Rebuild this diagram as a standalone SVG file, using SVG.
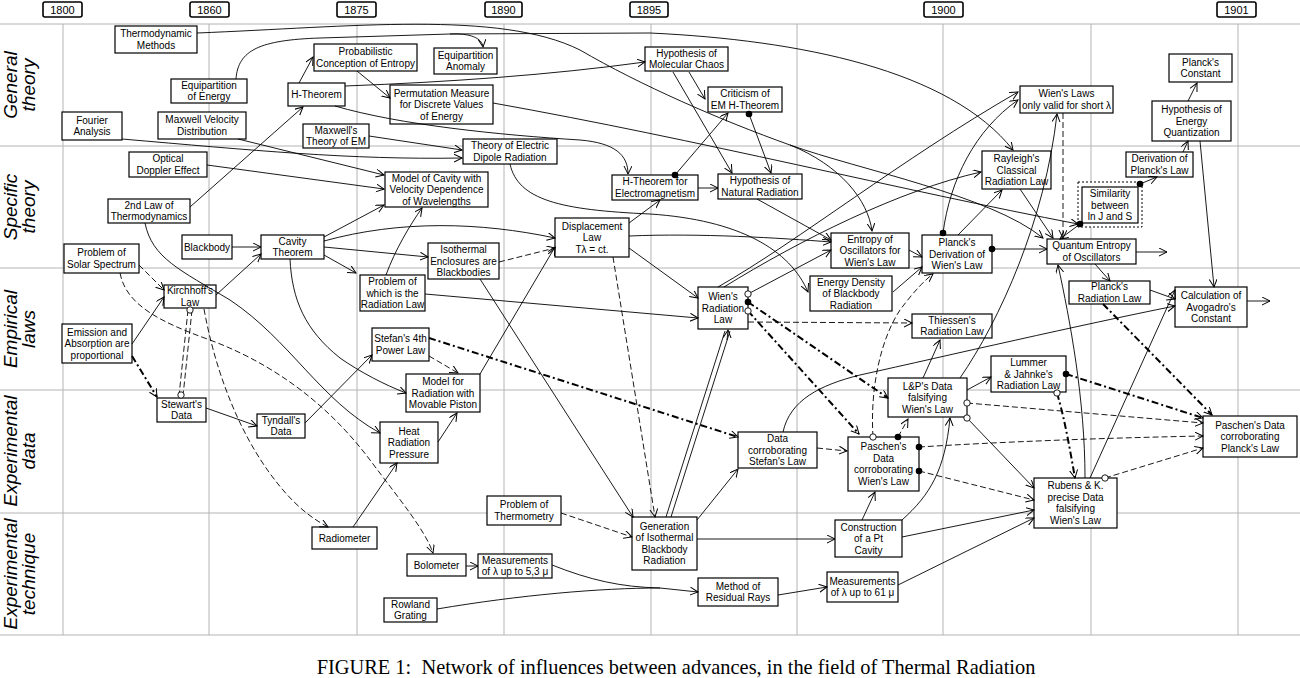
<svg xmlns="http://www.w3.org/2000/svg" width="1300" height="678" viewBox="0 0 1300 678">
<style>
.g{stroke:#b4b4b4;stroke-width:1;fill:none}
.yr rect{fill:#fff;stroke:#000;stroke-width:1.6}
.yr text{font-family:"Liberation Sans",Arial,sans-serif;font-size:11px;text-anchor:middle}
.row{font-family:"Liberation Sans",Arial,sans-serif;font-size:19px;font-style:italic;text-anchor:middle}
.n rect{fill:#fff;stroke:#000;stroke-width:1.2}
.n text{font-family:"Liberation Sans",Arial,sans-serif;font-size:10px;text-anchor:middle}
.c path{fill:none;stroke:#000;stroke-width:0.9}
.c .ds{stroke-dasharray:6 3}
.c .dd{stroke-width:2;stroke-dasharray:7 3 2 3}
.c .ar{marker-end:url(#a)}
.c .sd{marker-start:url(#d)}
.c .so{marker-start:url(#o)}
</style>
<defs>
<marker id="a" markerWidth="10" markerHeight="10" refX="8" refY="4" orient="auto" markerUnits="userSpaceOnUse"><path d="M0,0 L8,4 L0,8" fill="none" stroke="#000" stroke-width="1"/></marker>
<marker id="d" markerWidth="8" markerHeight="8" refX="4" refY="4" markerUnits="userSpaceOnUse"><circle cx="4" cy="4" r="3.3" fill="#000"/></marker>
<marker id="o" markerWidth="8" markerHeight="8" refX="4" refY="4" markerUnits="userSpaceOnUse"><circle cx="4" cy="4" r="3.2" fill="#fff" stroke="#000" stroke-width="0.9"/></marker>
</defs>
<rect width="1300" height="678" fill="#fff"/>
<g id="grid">
<path class="g" d="M0,24H1300M0,146H1300M0,268H1300M0,390H1300M0,513H1300M0,635H1300"/>
<path class="g" d="M63,24V635M209,24V635M357,24V635M504,24V635M651,24V635M797,24V635M943,24V635M1091,24V635M1238,24V635"/>
</g>
<g id="years" class="yr">
<rect x="43" y="2" width="39" height="15" rx="2"/><text x="62.5" y="14">1800</text>
<rect x="190" y="2" width="39" height="15" rx="2"/><text x="209.5" y="14">1860</text>
<rect x="337" y="2" width="39" height="15" rx="2"/><text x="356.5" y="14">1875</text>
<rect x="485" y="2" width="37" height="15" rx="2"/><text x="503.5" y="14">1890</text>
<rect x="630" y="2" width="38" height="15" rx="2"/><text x="649" y="14">1895</text>
<rect x="924" y="2" width="39" height="15" rx="2"/><text x="943.5" y="14">1900</text>
<rect x="1217" y="2" width="39" height="15" rx="2"/><text x="1236.5" y="14">1901</text>
</g>
<g id="rows">
<text class="row" transform="translate(17,85) rotate(-90)">General</text>
<text class="row" transform="translate(35,85) rotate(-90)">theory</text>
<text class="row" transform="translate(17,207) rotate(-90)">Specific</text>
<text class="row" transform="translate(35,207) rotate(-90)">theory</text>
<text class="row" transform="translate(17,329) rotate(-90)">Empirical</text>
<text class="row" transform="translate(35,329) rotate(-90)">laws</text>
<text class="row" transform="translate(17,451) rotate(-90)">Experimental</text>
<text class="row" transform="translate(35,451) rotate(-90)">data</text>
<text class="row" transform="translate(17,574) rotate(-90)">Experimental</text>
<text class="row" transform="translate(35,574) rotate(-90)">technique</text>
</g>
<g id="nodes">
<g id="thermo" class="n"><rect x="115" y="26" width="82" height="27"/><text x="156" y="37.2">Thermodynamic</text><text x="156" y="48.7">Methods</text></g>
<g id="equip" class="n"><rect x="171" y="79" width="76" height="24"/><text x="209" y="88.7">Equipartition</text><text x="209" y="100.2">of Energy</text></g>
<g id="hthm" class="n"><rect x="288" y="83" width="57" height="23"/><text x="316.5" y="98">H-Theorem</text></g>
<g id="fourier" class="n"><rect x="62" y="112" width="60" height="28"/><text x="92" y="123.7">Fourier</text><text x="92" y="135.2">Analysis</text></g>
<g id="mvd" class="n"><rect x="158" y="112" width="88" height="27"/><text x="202" y="123.2">Maxwell Velocity</text><text x="202" y="134.7">Distribution</text></g>
<g id="maxem" class="n"><rect x="303" y="124" width="66" height="24"/><text x="336" y="133.7">Maxwell's</text><text x="336" y="145.2">Theory of EM</text></g>
<g id="doppler" class="n"><rect x="129" y="152" width="78" height="25"/><text x="168" y="162.2">Optical</text><text x="168" y="173.7">Doppler Effect</text></g>
<g id="law2" class="n"><rect x="108" y="199" width="82" height="24"/><text x="149" y="208.7">2nd Law of</text><text x="149" y="220.2">Thermodynamics</text></g>
<g id="prob" class="n"><rect x="314" y="44" width="103" height="27"/><text x="365.5" y="55.2">Probabilistic</text><text x="365.5" y="66.7">Conception of Entropy</text></g>
<g id="eqanom" class="n"><rect x="434" y="48" width="63" height="26"/><text x="465.5" y="58.7">Equipartition</text><text x="465.5" y="70.2">Anomaly</text></g>
<g id="perm" class="n"><rect x="390" y="85" width="103" height="39"/><text x="441.5" y="96.5">Permutation Measure</text><text x="441.5" y="108">for Discrete Values</text><text x="441.5" y="119.5">of Energy</text></g>
<g id="dipole" class="n"><rect x="463" y="139" width="94" height="25"/><text x="510" y="149.2">Theory of Electric</text><text x="510" y="160.7">Dipole Radiation</text></g>
<g id="cavmodel" class="n"><rect x="385" y="172" width="103" height="35"/><text x="436.5" y="181.5">Model of Cavity with</text><text x="436.5" y="193">Velocity Dependence</text><text x="436.5" y="204.5">of Wavelengths</text></g>
<g id="displ" class="n"><rect x="555" y="218" width="74" height="39"/><text x="592" y="229.5">Displacement</text><text x="592" y="241">Law</text><text x="592" y="252.5">Tλ = ct.</text></g>
<g id="chaos" class="n"><rect x="645" y="47" width="83" height="24"/><text x="686.5" y="56.7">Hypothesis of</text><text x="686.5" y="68.2">Molecular Chaos</text></g>
<g id="critic" class="n"><rect x="708" y="87" width="74" height="25"/><text x="745" y="97.2">Criticism of</text><text x="745" y="108.7">EM H-Theorem</text></g>
<g id="hthmem" class="n"><rect x="612" y="175" width="86" height="25"/><text x="655" y="185.2">H-Theorem for</text><text x="655" y="196.7">Electromagnetism</text></g>
<g id="natrad" class="n"><rect x="718" y="174" width="84" height="25"/><text x="760" y="184.2">Hypothesis of</text><text x="760" y="195.7">Natural Radiation</text></g>
<g id="wienshort" class="n"><rect x="1020" y="86" width="93" height="27"/><text x="1066.5" y="97.2">Wien's Laws</text><text x="1066.5" y="108.7">only valid for short λ</text></g>
<g id="pconst" class="n"><rect x="1169" y="54" width="63" height="28"/><text x="1200.5" y="65.7">Planck's</text><text x="1200.5" y="77.2">Constant</text></g>
<g id="quant" class="n"><rect x="1152" y="101" width="79" height="40"/><text x="1191.5" y="113">Hypothesis of</text><text x="1191.5" y="124.5">Energy</text><text x="1191.5" y="136">Quantization</text></g>
<g id="rayleigh" class="n"><rect x="982" y="151" width="69" height="38"/><text x="1016.5" y="162">Rayleigh's</text><text x="1016.5" y="173.5">Classical</text><text x="1016.5" y="185">Radiation Law</text></g>
<g id="derivp" class="n"><rect x="1126" y="152" width="67" height="25"/><text x="1159.5" y="162.2">Derivation of</text><text x="1159.5" y="173.7">Planck's Law</text></g>
<g id="simil" class="n"><rect x="1078" y="182" width="64" height="45" style="stroke-dasharray:2 2;stroke-width:1"/><rect x="1082" y="187" width="56" height="36"/><text x="1110" y="197">Similarity</text><text x="1110" y="208.5">between</text><text x="1110" y="220">ln J and S</text></g>
<g id="solar" class="n"><rect x="64" y="244" width="75" height="29"/><text x="101.5" y="256.2">Problem of</text><text x="101.5" y="267.7">Solar Spectrum</text></g>
<g id="blackbody" class="n"><rect x="182" y="235" width="50" height="24"/><text x="207" y="250.5">Blackbody</text></g>
<g id="cavity" class="n"><rect x="261" y="235" width="63" height="24"/><text x="292.5" y="244.7">Cavity</text><text x="292.5" y="256.2">Theorem</text></g>
<g id="kirch" class="n"><rect x="164" y="285" width="52" height="23"/><text x="190" y="294.2">Kirchhoff's</text><text x="190" y="305.7">Law</text></g>
<g id="emis" class="n"><rect x="62" y="324" width="70" height="39"/><text x="97" y="335.5">Emission and</text><text x="97" y="347">Absorption are</text><text x="97" y="358.5">proportional</text></g>
<g id="stewart" class="n"><rect x="157" y="398" width="49" height="24"/><text x="181.5" y="407.7">Stewart's</text><text x="181.5" y="419.2">Data</text></g>
<g id="tyndall" class="n"><rect x="257" y="414" width="48" height="24"/><text x="281" y="423.7">Tyndall's</text><text x="281" y="435.2">Data</text></g>
<g id="isoth" class="n"><rect x="428" y="243" width="71" height="36"/><text x="463.5" y="253">Isothermal</text><text x="463.5" y="264.5">Enclosures are</text><text x="463.5" y="276">Blackbodies</text></g>
<g id="probrad" class="n"><rect x="360" y="275" width="65" height="36"/><text x="392.5" y="285">Problem of</text><text x="392.5" y="296.5">which is the</text><text x="392.5" y="308">Radiation Law</text></g>
<g id="stefan" class="n"><rect x="372" y="328" width="57" height="33"/><text x="400.5" y="342.2">Stefan's 4th</text><text x="400.5" y="353.7">Power Law</text></g>
<g id="piston" class="n"><rect x="406" y="374" width="74" height="38"/><text x="443" y="385">Model for</text><text x="443" y="396.5">Radiation with</text><text x="443" y="408">Movable Piston</text></g>
<g id="heatp" class="n"><rect x="380" y="422" width="58" height="41"/><text x="409" y="434.5">Heat</text><text x="409" y="446">Radiation</text><text x="409" y="457.5">Pressure</text></g>
<g id="entosc" class="n"><rect x="831" y="233" width="78" height="35"/><text x="870" y="242.5">Entropy of</text><text x="870" y="254">Oscillators for</text><text x="870" y="265.5">Wien's Law</text></g>
<g id="pderiv" class="n"><rect x="922" y="235" width="70" height="38"/><text x="957" y="246">Planck's</text><text x="957" y="257.5">Derivation of</text><text x="957" y="269">Wien's Law</text></g>
<g id="wienrad" class="n"><rect x="698" y="287" width="50" height="42"/><text x="723" y="300">Wien's</text><text x="723" y="311.5">Radiation</text><text x="723" y="323">Law</text></g>
<g id="edens" class="n"><rect x="810" y="276" width="82" height="35"/><text x="851" y="285.5">Energy Density</text><text x="851" y="297">of Blackbody</text><text x="851" y="308.5">Radiation</text></g>
<g id="thiessen" class="n"><rect x="912" y="314" width="80" height="24"/><text x="952" y="323.7">Thiessen's</text><text x="952" y="335.2">Radiation Law</text></g>
<g id="lp" class="n"><rect x="888" y="378" width="79" height="39"/><text x="927.5" y="389.5">L&amp;P's Data</text><text x="927.5" y="401">falsifying</text><text x="927.5" y="412.5">Wien's Law</text></g>
<g id="dstefan" class="n"><rect x="738" y="432" width="79" height="36"/><text x="777.5" y="442">Data</text><text x="777.5" y="453.5">corroborating</text><text x="777.5" y="465">Stefan's Law</text></g>
<g id="pwien" class="n"><rect x="848" y="437" width="71" height="54"/><text x="883.5" y="450.2">Paschen's</text><text x="883.5" y="461.7">Data</text><text x="883.5" y="473.2">corroborating</text><text x="883.5" y="484.7">Wien's Law</text></g>
<g id="qent" class="n"><rect x="1047" y="239" width="89" height="25"/><text x="1091.5" y="249.2">Quantum Entropy</text><text x="1091.5" y="260.7">of Oscillators</text></g>
<g id="planckrad" class="n"><rect x="1069" y="281" width="81" height="23"/><text x="1109.5" y="290.2">Planck's</text><text x="1109.5" y="301.7">Radiation Law</text></g>
<g id="avog" class="n"><rect x="1175" y="287" width="72" height="40"/><text x="1211" y="299">Calculation of</text><text x="1211" y="310.5">Avogadro's</text><text x="1211" y="322">Constant</text></g>
<g id="lj" class="n"><rect x="991" y="356" width="75" height="36"/><text x="1028.5" y="366">Lummer</text><text x="1028.5" y="377.5">&amp; Jahnke's</text><text x="1028.5" y="389">Radiation Law</text></g>
<g id="pplanck" class="n"><rect x="1203" y="416" width="94" height="41"/><text x="1250" y="428.5">Paschen's Data</text><text x="1250" y="440">corroborating</text><text x="1250" y="451.5">Planck's Law</text></g>
<g id="radiom" class="n"><rect x="312" y="527" width="65" height="22"/><text x="344.5" y="541.5">Radiometer</text></g>
<g id="thermom" class="n"><rect x="487" y="496" width="74" height="29"/><text x="524" y="508.2">Problem of</text><text x="524" y="519.7">Thermometry</text></g>
<g id="bolom" class="n"><rect x="407" y="554" width="59" height="22"/><text x="436.5" y="568.5">Bolometer</text></g>
<g id="meas53" class="n"><rect x="478" y="554" width="74" height="24"/><text x="515" y="563.7">Measurements</text><text x="515" y="575.2">of λ up to 5,3 μ</text></g>
<g id="rowland" class="n"><rect x="384" y="598" width="53" height="24"/><text x="410.5" y="607.7">Rowland</text><text x="410.5" y="619.2">Grating</text></g>
<g id="gener" class="n"><rect x="632" y="517" width="65" height="53"/><text x="664.5" y="529.7">Generation</text><text x="664.5" y="541.2">of Isothermal</text><text x="664.5" y="552.7">Blackbody</text><text x="664.5" y="564.2">Radiation</text></g>
<g id="residual" class="n"><rect x="698" y="578" width="80" height="28"/><text x="738" y="589.7">Method of</text><text x="738" y="601.2">Residual Rays</text></g>
<g id="ptcav" class="n"><rect x="835" y="520" width="67" height="37"/><text x="868.5" y="530.5">Construction</text><text x="868.5" y="542">of a Pt</text><text x="868.5" y="553.5">Cavity</text></g>
<g id="meas61" class="n"><rect x="827" y="572" width="71" height="30"/><text x="862.5" y="584.7">Measurements</text><text x="862.5" y="596.2">of λ up to 61 μ</text></g>
<g id="rubens" class="n"><rect x="1034" y="478" width="83" height="50"/><text x="1075.5" y="489.2">Rubens &amp; K.</text><text x="1075.5" y="500.7">precise Data</text><text x="1075.5" y="512.2">falsifying</text><text x="1075.5" y="523.7">Wien's Law</text></g>
</g>
<g id="connectors" class="c">
<path class="ar" d="M197,33 C350,27 500,10 580,50 C640,85 720,120 790,145 C840,165 868,200 872,231"/>
<path class="ar" d="M790,145 C860,170 990,195 1043,238"/>
<path class="ar" d="M236,79 C238,50 260,40 320,38 L450,34 C470,33 482,38 483,47"/>
<path class="ar" d="M450,34 L650,33 C800,40 950,70 1013,150"/>
<path class="ar" d="M299,83 L313,57"/>
<path class="ar" d="M190,207 L303,107"/>
<path class="ar" d="M345,86 C450,82 550,75 645,62"/>
<path class="ar" d="M357,71 L390,98"/>
<path class="ar" d="M335,106 C400,125 500,135 580,140 C615,143 628,155 628,174"/>
<path class="ar" d="M493,103 C700,140 900,190 1078,224"/>
<path class="ar" d="M145,223 C152,258 180,270 230,300 C290,340 320,400 380,433"/>
<path class="ar" d="M290,259 C292,300 305,330 340,358 C360,372 385,385 406,393"/>
<path class="ar" d="M122,139 C250,150 350,160 462,158"/>
<path class="ar" d="M369,136 L462,150"/>
<path class="ar" d="M238,139 L384,175"/>
<path class="ar" d="M207,165 L384,189"/>
<path class="ar" d="M324,237 L384,205"/>
<path class="ar" d="M324,241 C400,220 480,222 555,238"/>
<path class="ar" d="M324,247 L428,257"/>
<path class="ar" d="M324,255 L356,273"/>
<path class="ar" d="M386,275 C395,250 410,225 422,208"/>
<path class="ar ds" d="M499,262 L555,248"/>
<path class="ar" d="M480,279 L633,517"/>
<path class="ar" d="M425,294 L698,318"/>
<path class="ar ds" d="M429,356 L458,373"/>
<path class="ar dd" d="M429,338 L738,437"/>
<path class="ar" d="M305,423 L372,355"/>
<path class="ar" d="M206,408 L257,426"/>
<path class="ar" d="M353,527 L397,463"/>
<path class="ar" d="M438,442 L457,413"/>
<path class="ar" d="M480,374 L555,247"/>
<path class="ar ds" d="M139,265 L164,290"/>
<path class="ar ds" d="M120,273 C126,305 160,322 210,340 C290,370 340,420 370,460 C400,500 425,530 433,553"/>
<path class="ar" d="M132,344 L164,297"/>
<path class="ar dd" d="M132,356 L157,397"/>
<path class="ds" d="M188,310 L179,396 M192,310 L183,396"/>
<path class="so" d="M190,310 L190,310"/>
<path class="so" d="M181,395 L181,395"/>
<path class="ar" d="M216,295 L261,254"/>
<path class="ar ds" d="M204,309 C215,370 240,440 283,490 C300,510 315,520 328,527"/>
<path class="ar" d="M232,247 L261,247"/>
<path class="ar ds" d="M561,513 L632,537"/>
<path class="ar" d="M466,566 L478,566"/>
<path class="ar" d="M552,565 C590,580 620,587 660,588 L698,592"/>
<path d="M437,609 C520,595 600,588 660,588"/>
<path class="ar" d="M778,595 L827,587"/>
<path class="ar" d="M898,585 L1034,518"/>
<path class="ar" d="M697,539 L835,539"/>
<path class="ar" d="M697,520 L738,469"/>
<path d="M666,517 L725,331 M671,517 L730,331"/>
<path class="ar" d="M727,340 L728,330"/>
<path class="ar ds" d="M613,257 L655,517"/>
<path class="ar" d="M862,520 L875,492"/>
<path class="ar" d="M902,520 C930,495 945,470 950,418"/>
<path class="ar" d="M902,537 L1034,510"/>
<path class="ar ds" d="M817,448 L847,451"/>
<path class="ar" d="M783,432 C790,400 820,385 860,375 C950,355 1080,325 1175,306"/>
<path class="ar ds so" d="M873,437 C870,390 880,340 900,310 C915,290 925,280 933,274"/>
<path class="ar ds sd" d="M898,437 L908,419"/>
<path class="ar ds sd" d="M919,447 C1000,442 1100,438 1203,436"/>
<path class="ar ds sd" d="M919,471 L1034,500"/>
<path class="ar ds so" d="M967,403 L1203,423"/>
<path class="ar so" d="M967,418 L1034,488"/>
<path class="ar" d="M923,378 L940,340"/>
<path class="ar" d="M967,390 L991,377"/>
<path class="ar dd sd" d="M1066,374 L1203,418"/>
<path class="ar dd so" d="M1057,393 C1065,420 1070,450 1075,478"/>
<path class="ar dd" d="M1103,304 L1212,415"/>
<path class="ar" d="M1150,290 L1175,299"/>
<path class="ar" d="M1095,264 L1110,281"/>
<path class="ar" d="M1136,252 L1167,252"/>
<path class="ar" d="M1247,301 L1270,301"/>
<path class="ar" d="M1200,141 L1214,287"/>
<path class="ar" d="M1188,101 L1197,83"/>
<path class="ar" d="M1183,152 L1188,141"/>
<path class="ar sd" d="M1140,184 L1157,177"/>
<path class="ar sd" d="M1080,224 L1060,239"/>
<path class="ar" d="M1085,478 C1085,400 1070,320 1058,265"/>
<path class="ar" d="M1090,478 L1175,290"/>
<path class="ar ds so" d="M1105,478 L1203,448"/>
<path class="ar sd" d="M992,249 L1047,249"/>
<path class="ar sd" d="M943,233 C950,180 975,130 1018,100"/>
<path class="ar" d="M958,235 L1002,190"/>
<path class="ar" d="M718,287 C800,240 900,160 1018,92"/>
<path class="ar" d="M724,287 C800,240 900,190 981,172"/>
<path class="ar so" d="M748,294 L831,250"/>
<path class="ar dd sd" d="M748,302 L888,398"/>
<path class="ar dd so" d="M748,311 L859,434"/>
<path class="ar ds" d="M748,322 L912,323"/>
<path class="ar" d="M629,248 L698,298"/>
<path class="ar" d="M629,236 C700,233 780,238 831,242"/>
<path class="ar" d="M510,164 C518,200 560,210 650,214 C740,220 790,250 808,292"/>
<path class="ar" d="M757,199 L831,240"/>
<path class="ar sd" d="M749,114 L771,173"/>
<path class="ar sd" d="M675,175 L728,113"/>
<path class="ar" d="M698,188 L718,188"/>
<path class="ar" d="M689,72 L705,99"/>
<path class="ar" d="M673,72 L732,173"/>
<path class="ar" d="M629,223 L660,200"/>
<path class="ar ds" d="M1063,113 L1063,238"/>
<path class="ar" d="M960,378 C1000,320 1045,220 1057,114"/>
<path class="ar" d="M1020,189 L1053,238"/>
<path class="ar" d="M909,250 L922,257"/>
<path class="ar" d="M893,292 L922,267"/>
</g>
<text x="676" y="674" font-family="'Liberation Serif','Times New Roman',serif" font-size="20.4" text-anchor="middle">FIGURE 1:&#160; Network of influences between advances, in the field of Thermal Radiation</text>
</svg>
